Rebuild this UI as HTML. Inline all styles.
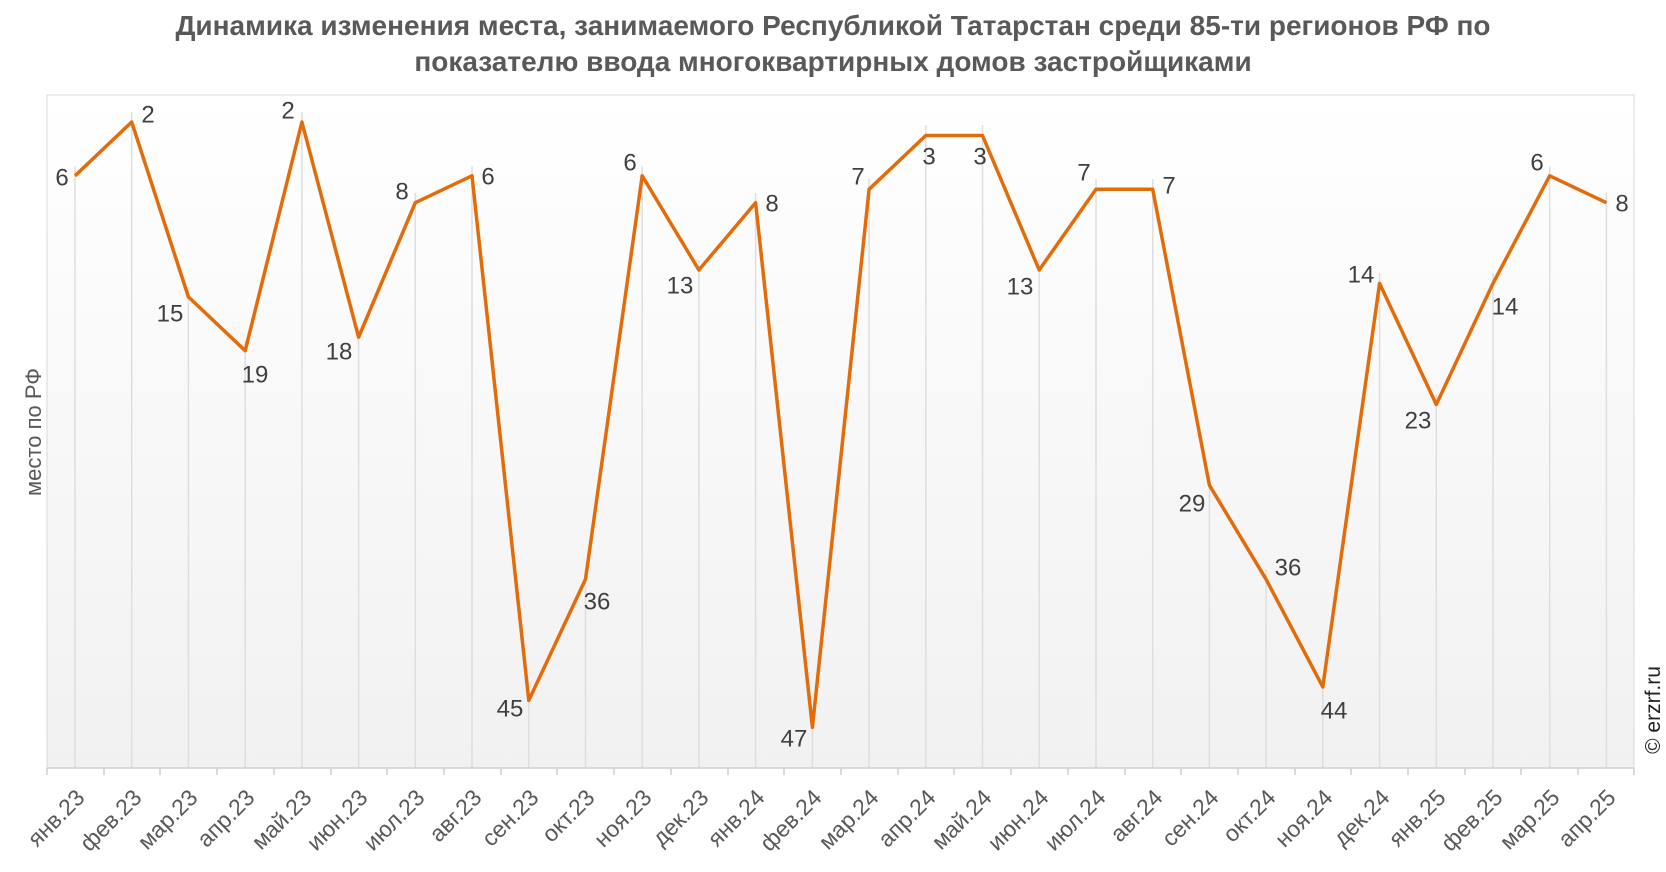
<!DOCTYPE html>
<html><head><meta charset="utf-8"><style>body{margin:0;background:#fff}svg{display:block;font-family:"Liberation Sans",sans-serif}</style></head><body>
<svg width="1666" height="872" viewBox="0 0 1666 872">
<defs><linearGradient id="bg" x1="0" y1="0" x2="0" y2="1"><stop offset="0" stop-color="#ffffff"/><stop offset="1" stop-color="#f1f1f1"/></linearGradient></defs>
<text x="833" y="35" text-anchor="middle" font-size="28" font-weight="bold" fill="#595959">Динамика изменения места, занимаемого Республикой Татарстан среди 85-ти регионов РФ по</text>
<text x="833" y="71" text-anchor="middle" font-size="28" font-weight="bold" fill="#595959">показателю ввода многоквартирных домов застройщиками</text>
<rect x="47" y="95" width="1587" height="673" fill="url(#bg)" stroke="#d9d9d9" stroke-width="1"/>
<g stroke="#dedede" stroke-width="1.5">
<line x1="75" y1="166" x2="75" y2="768"/><line x1="131.7" y1="112" x2="131.7" y2="768"/><line x1="188.4" y1="287" x2="188.4" y2="768"/><line x1="245.2" y1="341" x2="245.2" y2="768"/><line x1="301.9" y1="112" x2="301.9" y2="768"/><line x1="358.6" y1="327" x2="358.6" y2="768"/><line x1="415.3" y1="193" x2="415.3" y2="768"/><line x1="472" y1="166" x2="472" y2="768"/><line x1="528.8" y1="690" x2="528.8" y2="768"/><line x1="585.5" y1="569" x2="585.5" y2="768"/><line x1="642.2" y1="166" x2="642.2" y2="768"/><line x1="698.9" y1="260" x2="698.9" y2="768"/><line x1="755.6" y1="193" x2="755.6" y2="768"/><line x1="812.4" y1="717" x2="812.4" y2="768"/><line x1="869.1" y1="179" x2="869.1" y2="768"/><line x1="925.8" y1="125" x2="925.8" y2="768"/><line x1="982.5" y1="125" x2="982.5" y2="768"/><line x1="1039.2" y1="260" x2="1039.2" y2="768"/><line x1="1096" y1="179" x2="1096" y2="768"/><line x1="1152.7" y1="179" x2="1152.7" y2="768"/><line x1="1209.4" y1="475" x2="1209.4" y2="768"/><line x1="1266.1" y1="569" x2="1266.1" y2="768"/><line x1="1322.8" y1="677" x2="1322.8" y2="768"/><line x1="1379.6" y1="273" x2="1379.6" y2="768"/><line x1="1436.3" y1="394" x2="1436.3" y2="768"/><line x1="1493" y1="273" x2="1493" y2="768"/><line x1="1549.7" y1="166" x2="1549.7" y2="768"/><line x1="1606.4" y1="193" x2="1606.4" y2="768"/>
</g>
<line x1="47" y1="768" x2="1634" y2="768" stroke="#cfcfcf" stroke-width="1.5"/>
<g stroke="#cfcfcf" stroke-width="1.5">
<line x1="47" y1="768" x2="47" y2="775"/><line x1="104" y1="768" x2="104" y2="775"/><line x1="160" y1="768" x2="160" y2="775"/><line x1="217" y1="768" x2="217" y2="775"/><line x1="274" y1="768" x2="274" y2="775"/><line x1="331" y1="768" x2="331" y2="775"/><line x1="387" y1="768" x2="387" y2="775"/><line x1="444" y1="768" x2="444" y2="775"/><line x1="501" y1="768" x2="501" y2="775"/><line x1="557" y1="768" x2="557" y2="775"/><line x1="614" y1="768" x2="614" y2="775"/><line x1="671" y1="768" x2="671" y2="775"/><line x1="728" y1="768" x2="728" y2="775"/><line x1="784" y1="768" x2="784" y2="775"/><line x1="841" y1="768" x2="841" y2="775"/><line x1="898" y1="768" x2="898" y2="775"/><line x1="954" y1="768" x2="954" y2="775"/><line x1="1011" y1="768" x2="1011" y2="775"/><line x1="1068" y1="768" x2="1068" y2="775"/><line x1="1125" y1="768" x2="1125" y2="775"/><line x1="1181" y1="768" x2="1181" y2="775"/><line x1="1238" y1="768" x2="1238" y2="775"/><line x1="1295" y1="768" x2="1295" y2="775"/><line x1="1351" y1="768" x2="1351" y2="775"/><line x1="1408" y1="768" x2="1408" y2="775"/><line x1="1465" y1="768" x2="1465" y2="775"/><line x1="1521" y1="768" x2="1521" y2="775"/><line x1="1578" y1="768" x2="1578" y2="775"/><line x1="1634" y1="768" x2="1634" y2="775"/>
</g>
<polyline fill="none" stroke="#e36c0a" stroke-width="3.5" stroke-linejoin="round" points="75,175.8 131.7,122 188.4,296.9 245.2,350.7 301.9,122 358.6,337.2 415.3,202.7 472,175.8 528.8,700.4 585.5,579.3 642.2,175.8 698.9,270 755.6,202.7 812.4,727.3 869.1,189.3 925.8,135.5 982.5,135.5 1039.2,270 1096,189.3 1152.7,189.3 1209.4,485.2 1266.1,579.3 1322.8,686.9 1379.6,283.4 1436.3,404.5 1493,283.4 1549.7,175.8 1606.4,202.7"/>
<g font-size="24" fill="#404040" text-anchor="middle" dominant-baseline="central">
<text x="62" y="178">6</text><text x="148" y="115">2</text><text x="170" y="314">15</text><text x="255" y="375">19</text><text x="288" y="111">2</text><text x="339" y="352">18</text><text x="402" y="192">8</text><text x="488" y="177">6</text><text x="510" y="709">45</text><text x="597" y="602">36</text><text x="630" y="163">6</text><text x="680" y="286">13</text><text x="772" y="204">8</text><text x="794" y="739">47</text><text x="858" y="177">7</text><text x="929" y="157">3</text><text x="980" y="157">3</text><text x="1020" y="287">13</text><text x="1084" y="173">7</text><text x="1169" y="186">7</text><text x="1192" y="504">29</text><text x="1288" y="568">36</text><text x="1334" y="711">44</text><text x="1361" y="275">14</text><text x="1418" y="421">23</text><text x="1505" y="307">14</text><text x="1537" y="163">6</text><text x="1622" y="204">8</text>
</g>
<g font-size="23" fill="#595959" text-anchor="end">
<text transform="translate(86,799) rotate(-45)">янв.23</text><text transform="translate(143,799) rotate(-45)">фев.23</text><text transform="translate(199,799) rotate(-45)">мар.23</text><text transform="translate(256,799) rotate(-45)">апр.23</text><text transform="translate(313,799) rotate(-45)">май.23</text><text transform="translate(369,799) rotate(-45)">июн.23</text><text transform="translate(426,799) rotate(-45)">июл.23</text><text transform="translate(483,799) rotate(-45)">авг.23</text><text transform="translate(540,799) rotate(-45)">сен.23</text><text transform="translate(596,799) rotate(-45)">окт.23</text><text transform="translate(653,799) rotate(-45)">ноя.23</text><text transform="translate(710,799) rotate(-45)">дек.23</text><text transform="translate(766,799) rotate(-45)">янв.24</text><text transform="translate(823,799) rotate(-45)">фев.24</text><text transform="translate(880,799) rotate(-45)">мар.24</text><text transform="translate(937,799) rotate(-45)">апр.24</text><text transform="translate(993,799) rotate(-45)">май.24</text><text transform="translate(1050,799) rotate(-45)">июн.24</text><text transform="translate(1107,799) rotate(-45)">июл.24</text><text transform="translate(1164,799) rotate(-45)">авг.24</text><text transform="translate(1220,799) rotate(-45)">сен.24</text><text transform="translate(1277,799) rotate(-45)">окт.24</text><text transform="translate(1334,799) rotate(-45)">ноя.24</text><text transform="translate(1391,799) rotate(-45)">дек.24</text><text transform="translate(1447,799) rotate(-45)">янв.25</text><text transform="translate(1504,799) rotate(-45)">фев.25</text><text transform="translate(1561,799) rotate(-45)">мар.25</text><text transform="translate(1617,799) rotate(-45)">апр.25</text>
</g>
<text transform="translate(41,432) rotate(-90)" font-size="22" fill="#595959" text-anchor="middle">место по РФ</text>
<text transform="translate(1660,710) rotate(-90)" font-size="21" fill="#222" text-anchor="middle">© erzrf.ru</text>
</svg>
</body></html>
